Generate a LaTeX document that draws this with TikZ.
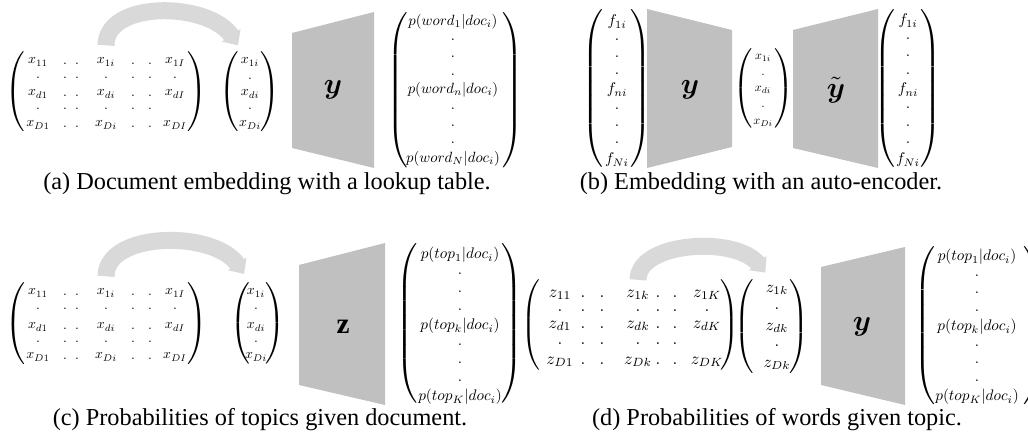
\documentclass[tikz,border=0pt]{standalone}
\usepackage{amsmath}
\usepackage{amssymb}
\usepackage{graphicx}
\usepackage{fontspec}
\setmainfont{Liberation Serif}
\usepackage{tikz}
\usetikzlibrary{arrows.meta}
\definecolor{BlockGray}{RGB}{192,192,192}
\definecolor{ArcGray}{RGB}{217,217,217}
\delimiterfactor=1000
\delimitershortfall=0pt
\newcommand{\ent}[2][0.6]{\scalebox{#1}{$#2$}}
\newcommand{\parL}[1]{\resizebox*{!}{#1}{$\left(\vcenter{\hrule height #1 width 0pt}\right.$}}
\newcommand{\parR}[1]{\resizebox*{!}{#1}{$\left.\vcenter{\hrule height #1 width 0pt}\right)$}}
\tikzset{
	entry/.style={inner sep=0pt},
	paren/.style={inner sep=0pt},
	layer/.style={fill=BlockGray},
	label/.style={inner sep=0pt, font=\large},
	lookup/.style={line width=7pt, draw=ArcGray, -{Triangle[width=9pt,length=5pt]}},
	caption/.style={anchor=base, inner sep=0pt, font=\fontsize{10}{12}\selectfont}
}

\begin{document}
\begin{tikzpicture}[x=0.4115pt, y=-0.4115pt]
	\useasboundingbox (0,0) rectangle (1028,444);

	% (a) lookup table
	\foreach \c/\xx in {1/38, i/106, I/175}
		\foreach \r/\yy in {1/62, d/94, D/125}
			\node[entry] (a-\r\c) at (\xx,\yy) {\ent[0.57]{x_{\r\c}}};
	\foreach \xx in {65,77,133,150} {
		\node[entry] (a-t1-\xx) at (\xx,64) {\ent[0.57]{.}};
		\node[entry] (a-td-\xx) at (\xx,96) {\ent[0.57]{.}};
		\node[entry] (a-tD-\xx) at (\xx,127) {\ent[0.57]{.}};
	}
	\foreach \xx in {38,65,77,106,133,150,175}
		\node[entry] (a-u2-\xx) at (\xx,78) {\ent[0.57]{.}};
	\foreach \xx in {38,65,77,106,133,150}
		\node[entry] (a-u4-\xx) at (\xx,109) {\ent[0.57]{.}};
	\node[paren] (a-ml) at (17,92) {\parL{32.9pt}};
	\node[paren] (a-mr) at (196,92) {\parR{32.9pt}};
	\node[entry] (a-v1) at (250,62) {\ent[0.57]{x_{1i}}};
	\node[entry] (a-v2) at (250,79) {\ent[0.57]{.}};
	\node[entry] (a-v3) at (250,94) {\ent[0.57]{x_{di}}};
	\node[entry] (a-v4) at (250,109) {\ent[0.57]{.}};
	\node[entry] (a-v5) at (250,125) {\ent[0.57]{x_{Di}}};
	\node[paren] (a-vl) at (231,92) {\parL{32.9pt}};
	\node[paren] (a-vr) at (269,92) {\parR{32.9pt}};
	\draw[lookup] ([yshift=5pt]a-1i.north) .. controls +(0,-45) and +(-30,-44) .. ([xshift=-1pt,yshift=5pt]a-v1.north west);
	\fill[layer] (292,33) -- (374,12) -- (374,168) -- (292,148) -- cycle;
	\node[label] (a-y) at (333,90) {$\boldsymbol{y}$};
	\node[entry] (a-p1) at (453,22) {\ent[0.61]{p(word_1|doc_i)}};
	\node[entry] (a-pn) at (453,90) {\ent[0.61]{p(word_n|doc_i)}};
	\node[entry] (a-pN) at (453,159) {\ent[0.61]{p(word_N|doc_i)}};
	\foreach \k in {1,2,3,5,6,7}
		\node[entry] (a-pd\k) at (453,{23+17.1*\k}) {\ent[0.61]{.}};
	\node[paren] (a-pl) at (399,90.5) {\parL{63.8pt}};
	\node[paren] (a-pr) at (511,90.5) {\parR{63.8pt}};
	\node[caption] (a-cap) at (267,190) {(a) Document embedding with a lookup table.};

	% (b) auto-encoder
	\node[entry] (b-f1) at (617,22) {\ent[0.64]{f_{1i}}};
	\node[entry] (b-fn) at (617,90) {\ent[0.64]{f_{ni}}};
	\node[entry] (b-fN) at (617,160) {\ent[0.64]{f_{Ni}}};
	\foreach \k in {1,2,3,5,6,7}
		\node[entry] (b-fd\k) at (617,{22+17.25*\k}) {\ent[0.64]{.}};
	\node[paren] (b-fl) at (594,88.5) {\parL{64.6pt}};
	\node[paren] (b-fr) at (639,88.5) {\parR{64.6pt}};
	\fill[layer] (647,9) -- (732,30) -- (732,147) -- (647,168) -- cycle;
	\node[label] (b-y) at (690,90) {$\boldsymbol{y}$};
	\node[entry] (b-v1) at (763,58) {\ent[0.5]{x_{1i}}};
	\node[entry] (b-v2) at (763,75) {\ent[0.5]{.}};
	\node[entry] (b-v3) at (763,90) {\ent[0.5]{x_{di}}};
	\node[entry] (b-v4) at (763,107) {\ent[0.5]{.}};
	\node[entry] (b-v5) at (763,123) {\ent[0.5]{x_{Di}}};
	\node[paren] (b-vl) at (744,88.5) {\parL{32.5pt}};
	\node[paren] (b-vr) at (783,88.5) {\parR{32.5pt}};
	\fill[layer] (793,30) -- (878,9) -- (878,168) -- (793,148) -- cycle;
	\node[label] (b-yt) at (836,90) {$\tilde{\boldsymbol{y}}$};
	\node[entry] (b-g1) at (908,21) {\ent[0.64]{f_{1i}}};
	\node[entry] (b-gn) at (908,90) {\ent[0.64]{f_{ni}}};
	\node[entry] (b-gN) at (908,160) {\ent[0.64]{f_{Ni}}};
	\foreach \k in {1,2,3,5,6,7}
		\node[entry] (b-gd\k) at (908,{21+17.4*\k}) {\ent[0.64]{.}};
	\node[paren] (b-gl) at (886,88.5) {\parL{64.6pt}};
	\node[paren] (b-gr) at (929,88.5) {\parR{64.6pt}};
	\node[caption] (b-cap) at (761,190) {(b) Embedding with an auto-encoder.};

	% (c) topics given document
	\foreach \c/\xx in {1/38, i/106, I/175}
		\foreach \r/\yy in {1/293, d/327, D/357}
			\node[entry] (c-\r\c) at (\xx,\yy) {\ent[0.57]{x_{\r\c}}};
	\foreach \xx in {65,77,133,150} {
		\node[entry] (c-t1-\xx) at (\xx,295) {\ent[0.57]{.}};
		\node[entry] (c-td-\xx) at (\xx,329) {\ent[0.57]{.}};
		\node[entry] (c-tD-\xx) at (\xx,359) {\ent[0.57]{.}};
	}
	\foreach \xx in {38,65,77,106,133,150,175}
		\node[entry] (c-u2-\xx) at (\xx,309) {\ent[0.57]{.}};
	\foreach \xx in {38,65,77,106,133,150}
		\node[entry] (c-u4-\xx) at (\xx,342) {\ent[0.57]{.}};
	\node[paren] (c-ml) at (17,324) {\parL{33.7pt}};
	\node[paren] (c-mr) at (196,324) {\parR{33.7pt}};
	\node[entry] (c-v1) at (256,293) {\ent[0.57]{x_{1i}}};
	\node[entry] (c-v2) at (256,309) {\ent[0.57]{.}};
	\node[entry] (c-v3) at (256,327) {\ent[0.57]{x_{di}}};
	\node[entry] (c-v4) at (256,342) {\ent[0.57]{.}};
	\node[entry] (c-v5) at (256,357) {\ent[0.57]{x_{Di}}};
	\node[paren] (c-vl) at (242,323.5) {\parL{33.3pt}};
	\node[paren] (c-vr) at (274,323.5) {\parR{33.3pt}};
	\draw[lookup] ([yshift=5pt]c-1i.north) .. controls +(0,-45) and +(-30,-44) .. ([xshift=-1pt,yshift=6pt]c-v1.north west);
	\fill[layer] (299,265) -- (385,243) -- (385,405) -- (299,385) -- cycle;
	\node[label] (c-z) at (343,327) {$\mathbf{z}$};
	\node[entry] (c-p1) at (460,255) {\ent[0.63]{p(top_1|doc_i)}};
	\node[entry] (c-pk) at (460,326) {\ent[0.63]{p(top_k|doc_i)}};
	\node[entry] (c-pK) at (460,397) {\ent[0.63]{p(top_K|doc_i)}};
	\foreach \k in {1,2,3,5,6,7}
		\node[entry] (c-pd\k) at (460,{256+17.75*\k}) {\ent[0.63]{.}};
	\node[paren] (c-pl) at (409,323) {\parL{65.8pt}};
	\node[paren] (c-pr) at (511,323) {\parR{65.8pt}};
	\node[caption] (c-cap) at (260,426) {(c) Probabilities of topics given document.};

	% (d) words given topic
	\foreach \c/\xx in {1/560, k/638, K/707}
		\foreach \r/\yy in {1/295, d/326, D/362}
			\node[entry] (d-\r\c) at (\xx,\yy) {\ent[0.7]{z_{\r\c}}};
	\foreach \xx in {583,602,658,675} {
		\node[entry] (d-t1-\xx) at (\xx,297) {\ent[0.7]{.}};
		\node[entry] (d-td-\xx) at (\xx,328) {\ent[0.7]{.}};
		\node[entry] (d-tD-\xx) at (\xx,364) {\ent[0.7]{.}};
	}
	\foreach \xx in {560,583,602,638,658,675,707}
		\node[entry] (d-u2-\xx) at (\xx,311) {\ent[0.7]{.}};
	\foreach \xx in {560,583,602,638,658,675}
		\node[entry] (d-u4-\xx) at (\xx,344) {\ent[0.7]{.}};
	\node[paren] (d-ml) at (532,325) {\parL{37pt}};
	\node[paren] (d-mr) at (729,325) {\parR{37pt}};
	\node[entry] (d-v1) at (777,290) {\ent[0.68]{z_{1k}}};
	\node[entry] (d-v2) at (777,309) {\ent[0.68]{.}};
	\node[entry] (d-v3) at (777,328) {\ent[0.68]{z_{dk}}};
	\node[entry] (d-v4) at (777,346) {\ent[0.68]{.}};
	\node[entry] (d-v5) at (777,365) {\ent[0.68]{z_{Dk}}};
	\node[paren] (d-vl) at (746,326.5) {\parL{38.3pt}};
	\node[paren] (d-vr) at (798,326.5) {\parR{38.3pt}};
	\draw[lookup] ([yshift=4pt]d-1k.north) .. controls +(0,-38) and +(-30,-37) .. ([yshift=5pt]d-v1.north west);
	\fill[layer] (821,267) -- (905,247) -- (905,405) -- (821,385) -- cycle;
	\node[label] (d-y) at (862,327) {$\boldsymbol{y}$};
	\node[entry] (d-p1) at (977,257) {\ent[0.63]{p(top_1|doc_i)}};
	\node[entry] (d-pk) at (977,327) {\ent[0.63]{p(top_k|doc_i)}};
	\node[entry] (d-pK) at (977,397) {\ent[0.63]{p(top_K|doc_i)}};
	\foreach \k in {1,2,3,5,6,7}
		\node[entry] (d-pd\k) at (977,{258+17.5*\k}) {\ent[0.63]{.}};
	\node[paren] (d-pl) at (926,326) {\parL{65pt}};
	\node[paren] (d-pr) at (1033,326) {\parR{65pt}};
	\node[caption] (d-cap) at (777,426) {(d) Probabilities of words given topic.};
\end{tikzpicture}
\end{document}
